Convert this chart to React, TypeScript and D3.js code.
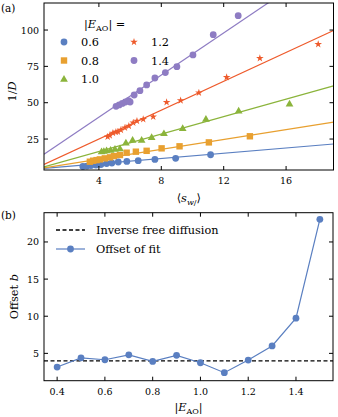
import React from 'react';
import * as d3 from 'd3';

const W = 338, H = 417;
const FONT = "'DejaVu Serif', 'Liberation Serif', serif";

// ---- Panel (a) data: <s_w/> vs 1/D for each |E_AO|
const s06 = [2.97, 3.23, 3.49, 3.81, 4.13, 4.49, 4.83, 5.24, 5.79, 6.52, 7.59, 8.92, 11.16];
const d06 = [6.1, 6.4, 6.75, 7.1, 7.4, 8.1, 8.5, 9.2, 9.6, 10.1, 11.0, 11.7, 14.2];
const s08 = [3.42, 3.63, 3.85, 4.06, 4.38, 4.71, 4.96, 5.35, 5.78, 6.37, 7.06, 8.02, 9.17, 11.05, 13.68];
const d08 = [9.4, 10.1, 10.5, 11.0, 11.7, 12.4, 13.3, 14.0, 15.6, 16.3, 16.9, 18.6, 20.0, 22.7, 26.9];
const s10 = [4.17, 4.32, 4.49, 4.75, 5.03, 5.35, 5.73, 6.16, 6.74, 7.38, 8.17, 9.37, 10.86, 12.96, 16.22];
const d10 = [16.4, 16.7, 17.1, 17.4, 18.1, 18.5, 22.5, 24.3, 24.3, 26.2, 28.9, 32.4, 38.8, 44.5, 49.3];
const s12 = [4.56, 4.7, 4.9, 5.09, 5.22, 5.41, 5.67, 5.92, 6.2, 6.44, 6.84, 7.48, 8.34, 9.24, 10.41, 12.19, 14.32, 18.06];
const d12 = [26.6, 27.4, 29.1, 29.8, 30.0, 31.2, 32.8, 34.0, 36.2, 37.4, 38.6, 40.4, 50.3, 51.5, 56.9, 67.5, 80.6, 90.2];
const s14 = [5.1, 5.3, 5.5, 5.7, 5.9, 6.0, 6.26, 6.63, 7.06, 7.59, 8.26, 9.0, 10.03, 11.33, 12.93];
const d14 = [47.5, 48.5, 49.5, 50.5, 51.5, 50.5, 55.3, 58.3, 62.2, 67.0, 70.7, 74.8, 82.9, 96.8, 109.9];

const levels = ['0.6', '0.8', '1.0', '1.2', '1.4'];
const fitSlopes = [0.905, 1.69, 3.0, 4.96, 7.25];
const fitIntercepts = [4.37, 4.4, 4.46, 5.2, 11.0];
const aXTicks = [4, 8, 12, 16];
const aYTicks = [25, 50, 75, 100];

// ---- Panel (b) data
const eAO = [0.4, 0.5, 0.6, 0.7, 0.8, 0.9, 1.0, 1.1, 1.2, 1.3, 1.4, 1.5];
const offsetB = [3.16, 4.4, 4.14, 4.8, 3.92, 4.73, 3.74, 2.4, 4.1, 6.0, 9.74, 23.05];
const freeDiffusion = 4;
const bXTicks = [0.4, 0.6, 0.8, 1.0, 1.2, 1.4];
const bYTicks = [5, 10, 15, 20];

const COLORS = ['#5a7fc1', '#e8a030', '#8bb43b', '#ee5a2b', '#8e7cc3'];
const SHAPES = ['circle', 'square', 'triangle', 'star', 'circle'];

const series = [
  { s: s06, d: d06 },
  { s: s08, d: d08 },
  { s: s10, d: d10 },
  { s: s12, d: d12 },
  { s: s14, d: d14 },
];

const TICK_FS = 9.5;
const LAB_FS = 11.3;

function Marker({ shape, x, y, color }: { shape: string; x: number; y: number; color: string }) {
  if (shape === 'circle') return <circle cx={x} cy={y} r={3.4} fill={color} />;
  if (shape === 'square') return <rect x={x - 3.2} y={y - 3.2} width={6.4} height={6.4} fill={color} />;
  if (shape === 'triangle') {
    const p = d3.symbol().type(d3.symbolTriangle).size(26)() as string;
    return <path d={p} transform={`translate(${x},${y + 0.5})`} fill={color} />;
  }
  const p = d3.symbol().type(d3.symbolStar).size(18)() as string;
  return <path d={p} transform={`translate(${x},${y})`} fill={color} />;
}

export default function App() {
  // Panel a
  const aL = 44, aR = 333.5, aT = 3, aB = 170;
  const xa = d3.scaleLinear().domain([0.48, 19.04]).range([aL, aR]);
  const ya = d3.scaleLinear().domain([3.7, 118.6]).range([aB, aT]);
  // Panel b
  const bL = 44, bR = 333, bT = 212.7, bB = 380.7;
  const xb = d3.scaleLinear().domain([0.345, 1.555]).range([bL, bR]);
  const yb = d3.scaleLinear().domain([1.32, 23.94]).range([bB, bT]);

  const tk = 4;
  const lineB = d3.line<number>().x((_, i) => xb(eAO[i])).y((v) => yb(v))(offsetB) as string;

  return (
    <svg width={W} height={H} style={{ position: 'fixed', left: 0, top: 0, background: '#fff' }} fontFamily={FONT}>
      <defs>
        <clipPath id="clipA"><rect x={aL} y={aT} width={aR - aL} height={aB - aT} /></clipPath>
      </defs>
      {/* ===== Panel (a) ===== */}
      <text x={1} y={12} fontSize={10.5}>(a)</text>
      <g clipPath="url(#clipA)">
        {levels.map((_, i) => {
          const x0 = xa.domain()[0], x1 = xa.domain()[1];
          return (
            <line key={i} x1={xa(x0)} y1={ya(fitIntercepts[i] + fitSlopes[i] * x0)} x2={xa(x1)} y2={ya(fitIntercepts[i] + fitSlopes[i] * x1)}
              stroke={COLORS[i]} strokeWidth={1.2} />
          );
        })}
        {series.map((ser, i) => (
          <g key={i}>
            {ser.s.map((sv, j) => (
              <Marker key={j} shape={SHAPES[i]} x={xa(sv)} y={ya(ser.d[j])} color={COLORS[i]} />
            ))}
          </g>
        ))}
      </g>
      <rect x={aL} y={aT} width={aR - aL} height={aB - aT} fill="none" stroke="#000" strokeWidth={1} />
      {aXTicks.map((t) => (
        <g key={t}>
          <line x1={xa(t)} x2={xa(t)} y1={aB} y2={aB - tk} stroke="#000" />
          <line x1={xa(t)} x2={xa(t)} y1={aT} y2={aT + tk} stroke="#000" />
          <text x={xa(t)} y={aB + 14} fontSize={TICK_FS} textAnchor="middle">{t}</text>
        </g>
      ))}
      {aYTicks.map((t) => (
        <g key={t}>
          <line x1={aL} x2={aL + tk} y1={ya(t)} y2={ya(t)} stroke="#000" />
          <line x1={aR} x2={aR - tk} y1={ya(t)} y2={ya(t)} stroke="#000" />
          <text x={aL - 5} y={ya(t) + 3.5} fontSize={TICK_FS} textAnchor="end">{t}</text>
        </g>
      ))}
      <text transform={`translate(16,${(aT + aB) / 2 + 5}) rotate(-90)`} fontSize={LAB_FS} textAnchor="middle">
        1/<tspan fontStyle="italic">D</tspan>
      </text>
      <text x={(aL + aR) / 2} y={202} fontSize={LAB_FS} textAnchor="middle">
        ⟨<tspan fontStyle="italic">s</tspan><tspan fontSize={8} dy={3}><tspan fontStyle="italic">w</tspan>/</tspan><tspan dy={-3}>⟩</tspan>
      </text>
      {/* legend a */}
      <text x={84} y={28} fontSize={LAB_FS}>
        |<tspan fontStyle="italic">E</tspan><tspan fontSize={8} dy={3}>AO</tspan><tspan dy={-3}>| =</tspan>
      </text>
      {[0, 1, 2].map((i) => (
        <g key={i}>
          <Marker shape={SHAPES[i]} x={64} y={42 + i * 18.5} color={COLORS[i]} />
          <text x={81} y={46 + i * 18.5} fontSize={LAB_FS}>{levels[i]}</text>
        </g>
      ))}
      {[3, 4].map((i, k) => (
        <g key={i}>
          <Marker shape={SHAPES[i]} x={134} y={42 + k * 18.5} color={COLORS[i]} />
          <text x={151} y={46 + k * 18.5} fontSize={LAB_FS}>{levels[i]}</text>
        </g>
      ))}

      {/* ===== Panel (b) ===== */}
      <text x={1} y={219} fontSize={10.5}>(b)</text>
      <line x1={bL} x2={bR} y1={yb(freeDiffusion)} y2={yb(freeDiffusion)} stroke="#000" strokeWidth={1.3} strokeDasharray="4,2.5" />
      <path d={lineB} fill="none" stroke={COLORS[0]} strokeWidth={1.2} />
      {offsetB.map((v, i) => (
        <circle key={i} cx={xb(eAO[i])} cy={yb(v)} r={3.4} fill={COLORS[0]} />
      ))}
      <rect x={bL} y={bT} width={bR - bL} height={bB - bT} fill="none" stroke="#000" strokeWidth={1} />
      {bXTicks.map((t) => (
        <g key={t}>
          <line x1={xb(t)} x2={xb(t)} y1={bB} y2={bB - tk} stroke="#000" />
          <line x1={xb(t)} x2={xb(t)} y1={bT} y2={bT + tk} stroke="#000" />
          <text x={xb(t)} y={bB + 14} fontSize={TICK_FS} textAnchor="middle">{t.toFixed(1)}</text>
        </g>
      ))}
      {bYTicks.map((t) => (
        <g key={t}>
          <line x1={bL} x2={bL + tk} y1={yb(t)} y2={yb(t)} stroke="#000" />
          <line x1={bR} x2={bR - tk} y1={yb(t)} y2={yb(t)} stroke="#000" />
          <text x={bL - 5} y={yb(t) + 3.5} fontSize={TICK_FS} textAnchor="end">{t}</text>
        </g>
      ))}
      <text transform={`translate(18,${(bT + bB) / 2}) rotate(-90)`} fontSize={LAB_FS} textAnchor="middle">
        Offset <tspan fontStyle="italic">b</tspan>
      </text>
      <text x={(bL + bR) / 2} y={411} fontSize={LAB_FS} textAnchor="middle">
        |<tspan fontStyle="italic">E</tspan><tspan fontSize={8} dy={3}>AO</tspan><tspan dy={-3}>|</tspan>
      </text>
      {/* legend b */}
      <line x1={56} x2={85} y1={230} y2={230} stroke="#000" strokeWidth={1.3} strokeDasharray="4,2.5" />
      <text x={96} y={234} fontSize={LAB_FS}>Inverse free diffusion</text>
      <line x1={56} x2={85} y1={249} y2={249} stroke={COLORS[0]} strokeWidth={1.2} />
      <circle cx={70.5} cy={249} r={3.4} fill={COLORS[0]} />
      <text x={96} y={253} fontSize={LAB_FS}>Offset of fit</text>
    </svg>
  );
}
